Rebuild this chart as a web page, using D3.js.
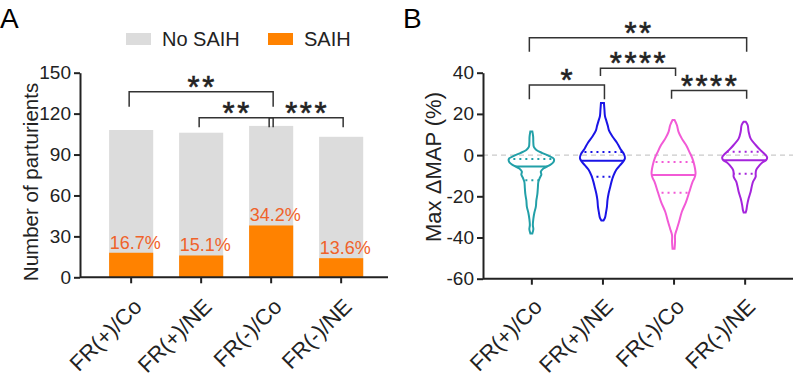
<!DOCTYPE html>
<html>
<head>
<meta charset="utf-8">
<script src="https://cdn.jsdelivr.net/npm/d3@7"></script>
<style>
  body { margin: 0; background: #fff; }
  svg { display: block; font-family: "Liberation Sans", Arial, sans-serif; }
</style>
</head>
<body>
<div id="chart"></div>
<script>
// ---- data ----
var groups = ["FR(+)/Co", "FR(+)/NE", "FR(-)/Co", "FR(-)/NE"];
var totalCounts = [108, 106, 111, 103];
var saihCounts = [18, 16, 38, 14];
var pctLabels = ["16.7%", "15.1%", "34.2%", "13.6%"];
var ticksA = [0, 30, 60, 90, 120, 150];
var ticksB = [-60, -40, -20, 0, 20, 40];

// significance brackets (bar indexes, bracket height / leg end in data units)
var sigA = [
  { from: 0, to: 2, top: 136, end: 125, label: "**" },
  { from: 1, to: 2, top: 117, end: 110, label: "**" },
  { from: 2, to: 3, top: 117, end: 110, label: "***" }
];
var sigB = [
  { from: 0, to: 3, top: 57, end: 50.2, label: "**" },
  { from: 1, to: 2, top: 42.1, end: 38.4, label: "****" },
  { from: 0, to: 1, top: 34, end: 27.1, label: "*" },
  { from: 2, to: 3, top: 31.3, end: 27.4, label: "****" }
];

// violin outlines: [Max ΔMAP %, half width]
var violinTeal = [[11.5,1],[9,1.8],[6,2],[4,2.5],[2.5,5],[1,11],[-0.5,18],[-1.8,22.5],[-3.5,22],[-5,18],[-6.5,12],[-8,9.5],[-9.5,10],[-11,8.5],[-13,7],[-16,6.5],[-19,6],[-22,5],[-25,4.5],[-28,3],[-31,2],[-34,1.5],[-36,2],[-38,1]];
var violinBlue = [[25.3,1.5],[22,2],[19,2.5],[16.5,4],[14,5.5],[12,6.5],[9,10],[6,14.5],[3,18],[0.5,21.5],[-1.5,22.5],[-3,21],[-5,17.5],[-7,14],[-10,11],[-13,9],[-16,7.5],[-19,6],[-22,5],[-25,4.5],[-28,3.5],[-30.5,2.5],[-31.8,1]];
var violinPink = [[17,1],[14.6,3.3],[11.3,5],[8,8.3],[4.9,12.5],[1.6,15.8],[-1.6,18.8],[-4.9,20.8],[-8.9,22],[-11,21],[-13,19],[-17.8,15.8],[-22.7,12.5],[-27.5,8.3],[-32.4,5.5],[-35.6,3.5],[-38.9,1.5],[-42,1.5],[-45.5,1]];
var violinPurple = [[16.2,1],[14.6,3],[11.3,4],[8,6],[4.9,11],[2.4,15.8],[0,21],[-1.2,22.5],[-2.4,21.5],[-3.5,18],[-4.9,15],[-7.3,11.5],[-9,11],[-10.5,11],[-13,8.3],[-15.5,7],[-17.8,6],[-21,4],[-24.3,2.5],[-26.5,1.8],[-27.9,1]];
var medians = [-5.5, -2.7, -9.7, -2.5];
var q1s = [-12.2, -10.5, -18.3, -9];
var q3s = [-1.9, 1.5, -3.3, 1.6];

var violinColors = ["#22a0a8", "#1a14e6", "#f25ad6", "#a524dc"];
var ink = "#222";

var svg = d3.select("#chart").append("svg")
    .attr("width", 794)
    .attr("height", 377);

// ================= Panel A =================
var yA = d3.scaleLinear().domain([0, 150]).range([277.3, 72.7]);
var xA = d3.scaleBand().domain(groups).range([80, 388])
    .paddingInner(0.37).paddingOuter(0.385).align(0.54);

var gA = svg.append("g");

gA.append("text").attr("x", 0).attr("y", 28)
    .style("font-size", "28px").text("A");

// legend
var legend = [{ name: "No SAIH", color: "#dcdcdc", x: 126 }, { name: "SAIH", color: "#ff8200", x: 268 }];
legend.forEach(function (d) {
    gA.append("rect").attr("x", d.x).attr("y", 33).attr("width", 25).attr("height", 12).attr("fill", d.color);
    gA.append("text").attr("x", d.x + 36).attr("y", 46).style("font-size", "20px").attr("fill", ink).text(d.name);
});

// bars
gA.selectAll(".tot").data(groups).join("rect")
    .attr("class", "tot")
    .attr("x", function (d) { return xA(d); })
    .attr("width", xA.bandwidth())
    .attr("y", function (d, i) { return yA(totalCounts[i]); })
    .attr("height", function (d, i) { return yA(0) - yA(totalCounts[i]); })
    .attr("fill", "#dcdcdc");

gA.selectAll(".saih").data(groups).join("rect")
    .attr("class", "saih")
    .attr("x", function (d) { return xA(d); })
    .attr("width", xA.bandwidth())
    .attr("y", function (d, i) { return yA(saihCounts[i]); })
    .attr("height", function (d, i) { return yA(0) - yA(saihCounts[i]); })
    .attr("fill", "#ff8200");

gA.selectAll(".pct").data(groups).join("text")
    .attr("class", "pct")
    .attr("x", function (d) { return xA(d) + xA.bandwidth() / 2 + 4; })
    .attr("y", function (d, i) { return yA(saihCounts[i]) - 4; })
    .attr("text-anchor", "middle")
    .style("font-size", "18px")
    .attr("fill", "#f0622a")
    .text(function (d, i) { return pctLabels[i]; });

// axes
var plainNum = function (d) { return String(d); };
gA.append("g").attr("transform", "translate(80,0)")
    .call(d3.axisLeft(yA).tickValues(ticksA).tickFormat(plainNum).tickSize(6).tickPadding(3).tickSizeOuter(0));
var axisXA = gA.append("g").attr("transform", "translate(0," + yA(0) + ")")
    .call(d3.axisBottom(xA).tickSize(6).tickSizeOuter(0).tickFormat(""));
axisXA.select(".domain").attr("d", "M80,0H388");

gA.append("text")
    .attr("transform", "translate(38,182) rotate(-90)")
    .attr("text-anchor", "middle")
    .style("font-size", "20.5px")
    .attr("fill", ink)
    .text("Number of parturients");

gA.selectAll(".xlab").data(groups).join("text")
    .attr("class", "xlab")
    .attr("transform", function (d) { return "translate(" + (xA(d) + xA.bandwidth() / 2 + 12) + ",308) rotate(-45)"; })
    .attr("text-anchor", "end")
    .style("font-size", "22px")
    .attr("fill", ink)
    .text(function (d) { return d; });

function drawBrackets(g, list, xOf, yOf) {
    list.forEach(function (s) {
        var x1 = xOf(groups[s.from]) - 2, x2 = xOf(groups[s.to]) + 2;
        g.append("path")
            .attr("d", "M" + x1 + "," + yOf(s.end) + "V" + yOf(s.top) + "H" + x2 + "V" + yOf(s.end))
            .attr("fill", "none").attr("stroke", "#333").attr("stroke-width", 1.5);
        g.append("text")
            .attr("x", (x1 + x2) / 2 + 1)
            .attr("y", yOf(s.top) + 6)
            .attr("text-anchor", "middle")
            .style("font-size", "31px")
            .style("letter-spacing", "2.5px")
            .attr("fill", ink)
            .attr("stroke", ink)
            .attr("stroke-width", 0.6)
            .text(s.label);
    });
}
drawBrackets(gA, sigA, function (d) { return xA(d) + xA.bandwidth() / 2; }, yA);

// ================= Panel B =================
var yB = d3.scaleLinear().domain([-60, 40]).range([278.7, 72.7]);
var xB = d3.scalePoint().domain(groups).range([483, 793]).padding(0.68);

var gB = svg.append("g");
gB.append("text").attr("x", 403).attr("y", 28)
    .style("font-size", "28px").text("B");

gB.append("line")
    .attr("x1", 483).attr("x2", 793)
    .attr("y1", yB(0)).attr("y2", yB(0))
    .attr("stroke", "#bdbdbd").attr("stroke-width", 1).attr("stroke-dasharray", "5,4");

var profiles = [violinTeal, violinBlue, violinPink, violinPurple];

profiles.forEach(function (prof, i) {
    var cx = xB(groups[i]);
    var area = d3.area()
        .y(function (d) { return yB(d[0]); })
        .x0(function (d) { return cx - d[1]; })
        .x1(function (d) { return cx + d[1]; })
        .curve(d3.curveCatmullRom.alpha(0.5));
    var clipId = "vclip" + i;
    gB.append("clipPath").attr("id", clipId)
        .append("path").attr("d", area(prof));
    var lines = gB.append("g").attr("clip-path", "url(#" + clipId + ")");
    lines.append("line")
        .attr("x1", cx - 30).attr("x2", cx + 30)
        .attr("y1", yB(medians[i])).attr("y2", yB(medians[i]))
        .attr("stroke", violinColors[i]).attr("stroke-width", 2);
    [q1s[i], q3s[i]].forEach(function (q) {
        lines.append("line")
            .attr("x1", cx - 30).attr("x2", cx + 30)
            .attr("y1", yB(q)).attr("y2", yB(q))
            .attr("stroke", violinColors[i]).attr("stroke-width", 2)
            .attr("stroke-dasharray", "2,4");
    });
    gB.append("path")
        .attr("d", area(prof))
        .attr("fill", "none")
        .attr("stroke", violinColors[i])
        .attr("stroke-width", 2);
});

gB.append("g").attr("transform", "translate(483,0)")
    .call(d3.axisLeft(yB).tickValues(ticksB).tickFormat(plainNum).tickSize(6).tickPadding(3).tickSizeOuter(0));
var axisXB = gB.append("g").attr("transform", "translate(0," + yB(-60) + ")")
    .call(d3.axisBottom(xB).tickSize(6).tickSizeOuter(0).tickFormat(""));
axisXB.select(".domain").attr("d", "M483,0H793");

gB.append("text")
    .attr("transform", "translate(441,167) rotate(-90)")
    .attr("text-anchor", "middle")
    .style("font-size", "22px")
    .attr("fill", ink)
    .text("Max \u0394MAP (%)");

gB.selectAll(".xlab").data(groups).join("text")
    .attr("class", "xlab")
    .attr("transform", function (d) { return "translate(" + (xB(d) + 12) + ",308) rotate(-45)"; })
    .attr("text-anchor", "end")
    .style("font-size", "22px")
    .attr("fill", ink)
    .text(function (d) { return d; });

drawBrackets(gB, sigB, function (d) { return xB(d); }, yB);

// shared axis styling
svg.selectAll(".domain").attr("stroke", ink).attr("stroke-width", 2);
svg.selectAll(".tick line").attr("stroke", ink).attr("stroke-width", 2);
svg.selectAll(".tick text").style("font-size", "19px").attr("fill", ink)
    .style("font-family", "'Liberation Sans', Arial, sans-serif");
</script>
</body>
</html>
